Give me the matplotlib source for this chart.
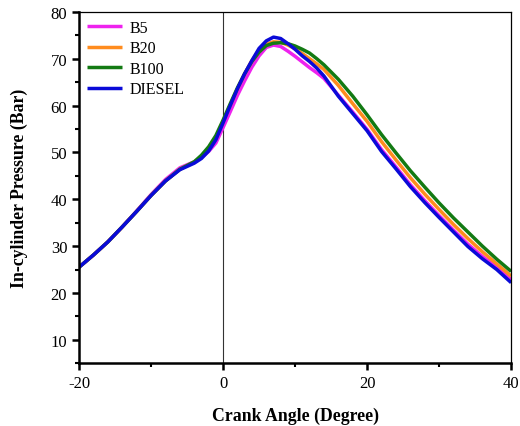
"""In-cylinder pressure vs crank angle for B5 / B20 / B100 / diesel."""

import matplotlib

matplotlib.use("Agg")
import matplotlib.pyplot as plt
from matplotlib.ticker import MultipleLocator

# crank angle (deg) and pressure (bar)
angle = [-20, -18, -16, -14, -12, -10, -8, -6, -4, -3, -2, -1, 0, 1, 2, 3, 4, 5, 6, 7, 8, 9,
         10, 11, 12, 13, 14, 16, 18, 20, 22, 24, 26, 28, 30, 32, 34, 36, 38, 40]

diesel = [25.5, 28.1, 30.9, 34.1, 37.4, 40.8, 43.9, 46.3, 47.7, 48.7, 50.3, 52.7, 56.3, 60.0,
          63.6, 66.8, 69.6, 72.2, 73.8, 74.6, 74.3, 73.2, 72.0, 70.6, 69.4, 68.0, 66.3, 62.0,
          58.3, 54.6, 50.2, 46.5, 42.7, 39.3, 36.1, 33.0, 29.9, 27.3, 25.0, 22.2]
b5 = [25.5, 28.1, 30.9, 34.1, 37.5, 41.0, 44.2, 46.7, 48.0, 48.9, 50.2, 52.0, 55.3, 58.7,
      62.2, 65.3, 68.2, 70.6, 72.4, 72.9, 72.6, 71.6, 70.5, 69.3, 68.1, 67.0, 65.8, 62.2,
      58.6, 54.9, 50.6, 46.9, 43.1, 39.7, 36.5, 33.4, 30.4, 27.8, 25.5, 22.8]
b20 = [25.5, 28.1, 30.9, 34.1, 37.4, 40.8, 43.9, 46.4, 47.9, 49.1, 50.8, 53.1, 56.6, 60.1,
       63.6, 66.8, 69.6, 71.8, 73.1, 73.6, 73.5, 72.9, 72.1, 71.1, 70.0, 68.9, 67.7, 64.3,
       60.4, 56.6, 52.3, 48.4, 44.6, 41.1, 37.8, 34.6, 31.6, 28.8, 26.2, 23.6]
b100 = [25.5, 28.1, 30.9, 34.1, 37.4, 40.8, 43.9, 46.4, 48.0, 49.4, 51.2, 53.6, 56.9, 60.4,
        63.8, 66.8, 69.4, 71.4, 72.8, 73.3, 73.4, 73.2, 72.7, 72.0, 71.2, 70.0, 68.7, 65.6,
        62.0, 58.0, 53.8, 49.9, 46.1, 42.6, 39.2, 36.0, 33.0, 30.0, 27.2, 24.6]

series = [
    ("B5", b5, "#ee22ee"),
    ("B20", b20, "#ff8c1e"),
    ("B100", b100, "#137a13"),
    ("DIESEL", diesel, "#0a0ad8"),
]

plt.rcParams["font.family"] = ["Liberation Serif", "DejaVu Serif"]
plt.rcParams["axes.unicode_minus"] = False

fig = plt.figure(figsize=(5.2, 4.27), dpi=100)
ax = fig.add_axes([0.152, 0.147, 0.831, 0.823])

for label, ys, color in series:
    ax.plot(angle, ys, color=color, lw=2.5, label=label, solid_joinstyle="round",
            solid_capstyle="butt")

ax.axvline(0, color="#333333", lw=0.8, zorder=0)

ax.set_xlim(-20, 40)
ax.set_ylim(5, 80)
ax.xaxis.set_major_locator(MultipleLocator(20))
ax.xaxis.set_minor_locator(MultipleLocator(10))
ax.yaxis.set_major_locator(MultipleLocator(10))
ax.yaxis.set_minor_locator(MultipleLocator(5))
ax.set_yticks(range(10, 81, 10))

for side in ("left", "bottom"):
    ax.spines[side].set_linewidth(1.8)
for side in ("top", "right"):
    ax.spines[side].set_linewidth(0.9)

ax.tick_params(which="major", direction="out", length=5, width=1.8, labelsize=12)
ax.tick_params(which="minor", direction="out", length=3, width=1.5)

ax.set_xlabel("Crank Angle (Degree)", fontsize=12.8, fontweight="bold", labelpad=11)
ax.set_ylabel("In-cylinder Pressure (Bar)", fontsize=12.8, fontweight="bold", labelpad=16)

ax.legend(loc="upper left", frameon=False, fontsize=11.5, handlelength=2.2,
          handletextpad=0.45, labelspacing=0.28, borderaxespad=0.3, borderpad=0.2)

fig.savefig("out.png", dpi=100)
